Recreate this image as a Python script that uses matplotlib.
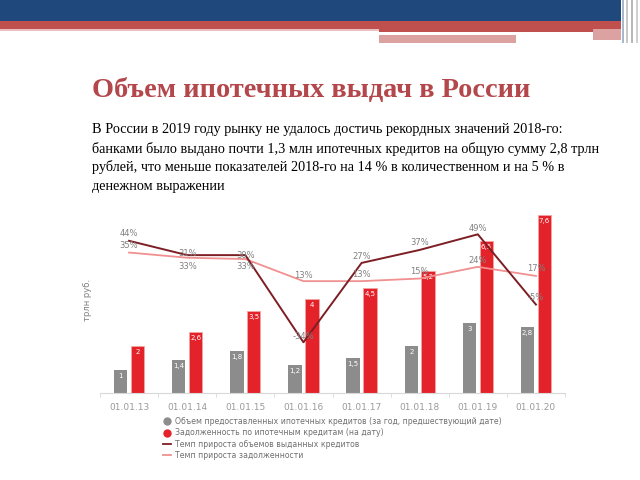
import numpy as np
import matplotlib.pyplot as plt
from matplotlib.patches import Rectangle
from matplotlib.lines import Line2D

W, H = 640, 480

dates = ['01.01.13', '01.01.14', '01.01.15', '01.01.16',
         '01.01.17', '01.01.18', '01.01.19', '01.01.20']
issued = [1.0, 1.4, 1.8, 1.2, 1.5, 2.0, 3.0, 2.8]
debt = [2.0, 2.6, 3.5, 4.0, 4.5, 5.2, 6.5, 7.6]
issued_lbl = ['1', '1,4', '1,8', '1,2', '1,5', '2', '3', '2,8']
debt_lbl = ['2', '2,6', '3,5', '4', '4,5', '5,2', '6,5', '7,6']
issued_growth = [44, 33, 33, -34, 27, 37, 49, -5]
debt_growth = [35, 31, 30, 13, 13, 15, 24, 17]

legend_txt = ['Объем предоставленных ипотечных кредитов (за год, предшествующий дате)',
              'Задолженность по ипотечным кредитам (на дату)',
              'Темп прироста объемов выданных кредитов',
              'Темп прироста задолженности']

title = 'Объем ипотечных выдач в России'
body = ['В России в 2019 году рынку не удалось достичь рекордных значений 2018-го:',
        'банками было выдано почти 1,3 млн ипотечных кредитов на общую сумму 2,8 трлн',
        'рублей, что меньше показателей 2018-го на 14 % в количественном и на 5 % в',
        'денежном выражении']

GREY = '#8c8c8c'
RED = '#e3222a'
DARK = '#7d1e24'
PINK = '#f09090'
TXT = '#808080'


def fx(px):
    return px / W


def fy(py):
    return 1 - py / H


fig = plt.figure(figsize=(6.4, 4.8), dpi=100)

# slide header decoration
def band(x0, y0, x1, y1, c):
    fig.patches.append(Rectangle((fx(x0), fy(y1)), fx(x1 - x0), (y1 - y0) / H,
                                 transform=fig.transFigure, color=c, lw=0, zorder=0))

band(0, 0, 621, 21, '#1f497d')
band(0, 21, 621, 29, '#c0504d')
band(0, 29, 379, 31, '#eac0c0')
band(379, 29, 621, 32, '#c0504d')
band(379, 35, 516, 43, '#dca2a2')
band(593, 29, 621, 40, '#dca2a2')
for xs, c in [(622, '#a9b8cc'), (626, '#c8c8c8'), (631, '#b8b8b8'), (636, '#d0d0d0')]:
    band(xs, 0, xs + 2, 43, c)

fig.text(fx(311), fy(90), title, ha='center', va='center', fontsize=20.4,
         fontweight='bold', family='Liberation Serif', color='#b3474b')
for i, line in enumerate(body):
    fig.text(fx(92), fy(130 + i * 18.7), line, ha='left', va='center', fontsize=10.3,
             family='Liberation Serif', color='black')

# chart
ax = fig.add_axes([fx(100), fy(393), fx(465), 183 / H])
x = np.arange(len(dates))
bw = 0.23
ax.bar(x - 0.145, issued, bw, color=GREY, zorder=2)
ax.bar(x + 0.145, debt, bw, color=RED, edgecolor='#f4a4a4', linewidth=0.6, zorder=2)
for i in range(len(x)):
    ax.annotate(issued_lbl[i], (x[i] - 0.145, issued[i]), xytext=(0, -3),
                textcoords='offset pixels', ha='center', va='top', fontsize=5, color='white')
    ax.annotate(debt_lbl[i], (x[i] + 0.145, debt[i]), xytext=(0, -3),
                textcoords='offset pixels', ha='center', va='top', fontsize=5, color='white')
ax.set_xlim(-0.5, 7.5)
ax.set_ylim(0, 7.82)
ax.set_yticks([])
for s in ['top', 'right', 'left']:
    ax.spines[s].set_visible(False)
ax.spines['bottom'].set_color('#d8d8d8')
ax.set_xticks(x)
ax.set_xticklabels(dates, fontsize=6.5, color='#9a9a9a')
ax.tick_params(axis='x', which='major', length=0, pad=7)
ax.set_xticks(np.arange(-0.5, 8, 1), minor=True)
ax.tick_params(axis='x', which='minor', length=3, color='#d8d8d8')
ax.patch.set_alpha(0)

ax2 = ax.twinx()
ax2.set_ylim(-73, 67.7)
ax2.axis('off')
ax2.plot(x, debt_growth, color=PINK, lw=1.3, zorder=3)
ax2.plot(x, issued_growth, color=DARK, lw=1.4, zorder=4)
dark_off = [7, -11, -11, 6, 6, 7, 6, 7]
pink_off = [7, 4, 4, 6, 7, 7, 6, 7]
for i in range(len(x)):
    ax2.annotate('%d%%' % issued_growth[i], (x[i], issued_growth[i]), xytext=(0, dark_off[i]),
                 textcoords='offset pixels', ha='center', va='center', fontsize=6, color=TXT, zorder=5)
    ax2.annotate('%d%%' % debt_growth[i], (x[i], debt_growth[i]), xytext=(0, pink_off[i]),
                 textcoords='offset pixels', ha='center', va='center', fontsize=6, color=TXT, zorder=5)

fig.text(fx(88), fy(300), 'трлн руб.', rotation=90, ha='center', va='center',
         fontsize=6, color=TXT)

handles = [Line2D([], [], marker='o', ls='none', color=GREY, markersize=5),
           Line2D([], [], marker='o', ls='none', color=RED, markersize=5),
           Line2D([], [], color=DARK, lw=1.3),
           Line2D([], [], color=PINK, lw=1.3)]
leg = fig.legend(handles, legend_txt, loc='upper left', bbox_to_anchor=(fx(163), fy(417)),
                 frameon=False, fontsize=5.6, labelspacing=0.3, handlelength=1,
                 handletextpad=0.5, borderpad=0, borderaxespad=0)
for t in leg.get_texts():
    t.set_color('#707070')

fig.savefig('out.png', dpi=100)
